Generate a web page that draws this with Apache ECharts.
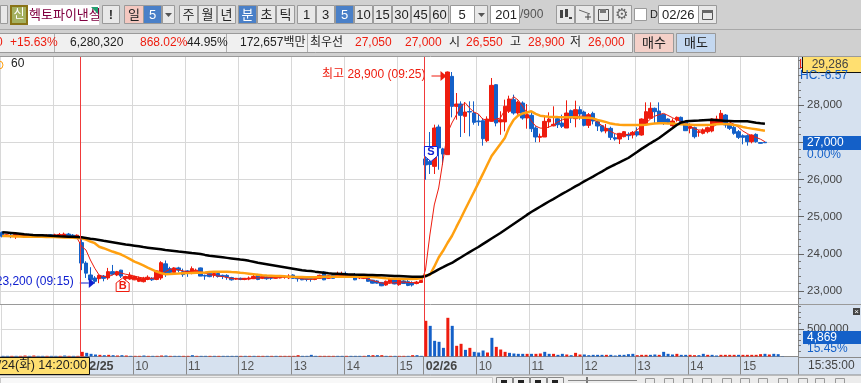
<!DOCTYPE html>
<html><head><meta charset="utf-8">
<style>html,body{margin:0;padding:0;background:#fff;overflow:hidden}#c{width:861px;height:383px}</style>
<script src="https://cdn.jsdelivr.net/npm/echarts@6/dist/echarts.min.js"></script>
</head><body><div id="c"></div>
<script>
// [open, close, low, high] per 5-minute bar
const candles = [
[24570,24470,24440,24600],[24480,24510,24450,24530],[24500,24480,24420,24540],[24480,24520,24400,24550],[24500,24510,24470,24530],[24480,24520,24430,24540],
[24520,24510,24480,24540],[24510,24450,24430,24530],[24460,24490,24440,24510],[24510,24470,24450,24530],[24470,24500,24450,24520],[24510,24460,24440,24530],
[24470,24510,24450,24540],[24500,24520,24460,24560],[24490,24530,24450,24570],[24530,24490,24460,24560],[24500,24460,24430,24530],[24460,24500,24440,24520],
[24300,23750,23560,24400],[23750,23480,23350,23800],[23430,23300,23230,23640],[23350,23260,23200,23400],[23330,23420,23210,23440],[23400,23340,23260,23430],
[23350,23520,23300,23620],[23520,23450,23420,23700],[23430,23520,23400,23540],[23560,23400,23350,23570],[23330,23390,23270,23410],[23320,23420,23300,23500],
[23300,23390,23290,23410],[23260,23350,23240,23390],[23250,23340,23230,23380],[23310,23370,23290,23420],[23340,23300,23270,23370],[23310,23540,23290,23560],
[23350,23760,23300,23800],[23730,23500,23380,23820],[23600,23500,23480,23650],[23500,23620,23490,23640],[23620,23560,23500,23650],[23520,23440,23380,23600],
[23540,23480,23380,23560],[23470,23600,23450,23660],[23520,23560,23500,23600],[23620,23400,23400,23630],[23420,23400,23300,23440],
[23475,23386,23370,23510],[23430,23470,23360,23520],[23470,23390,23360,23500],[23420,23390,23320,23440],[23420,23370,23300,23450],[23360,23300,23280,23380],
[23320,23340,23300,23350],[23340,23310,23290,23360],[23310,23340,23290,23350],[23320,23350,23290,23390],[23330,23390,23320,23430],[23440,23310,23290,23460],
[23340,23390,23320,23410],[23380,23330,23300,23400],[23380,23340,23300,23410],[23340,23380,23330,23390],[23350,23400,23340,23430],[23370,23390,23330,23420],
[23350,23400,23320,23450],[23430,23340,23330,23450],[23360,23330,23250,23390],[23340,23300,23290,23360],[23340,23310,23260,23370],[23340,23320,23250,23360],
[23310,23340,23290,23360],[23340,23420,23330,23440],[23510,23300,23290,23530],[23340,23410,23330,23430],[23430,23340,23330,23450],[23380,23470,23360,23520],
[23420,23450,23380,23520],[23470,23400,23380,23520],[23400,23430,23380,23450],[23440,23300,23290,23480],[23350,23400,23320,23430],[23340,23360,23320,23380],
[23360,23260,23250,23370],[23290,23210,23200,23300],[23270,23210,23200,23290],[23230,23140,23130,23240],[23160,23260,23140,23280],[23220,23330,23200,23350],
[23330,23190,23180,23350],[23170,23330,23140,23350],[23270,23200,23190,23310],[23250,23150,23130,23330],[23220,23160,23120,23260],[23200,23240,23180,23270],
[23230,23280,23220,23300],
[26550,26390,25990,26650],[26480,26400,26145,27274],[26350,27381,26145,27471],[27408,26844,26260,27471],[26820,26680,26390,26850],[26665,28886,26665,28900],
[28770,27963,27668,28886],[27963,28026,27605,28322],[28026,27722,27139,28098],[27695,27811,27247,28080],[27825,27810,27157,28098],[27784,27533,27470,28098],
[27570,27550,27440,27760],[27578,27094,26906,27650],[27040,27623,27000,27695],[27560,28528,27550,28725],[28546,27516,27426,28560],[27545,27605,27200,27830],
[27545,27964,27291,28143],[27829,28161,27784,28250],[28143,27784,27740,28277],[27784,28080,27740,28116],[28053,27650,27605,28098],[27650,27740,27363,28026],
[27722,27363,27274,27830],[27381,27139,27000,27430],[27130,27157,27000,27230],[27139,27560,27139,27722],[27545,27623,27381,27802],[27440,27480,27426,27964],
[27632,27470,27381,27695],[27515,27426,27381,27740],[27381,27784,27381,28125],[27847,27650,27515,27875],[27632,27874,27400,28116],[27874,27757,27605,27964],
[27811,27453,27426,27847],[27453,27740,27381,27784],[27775,27569,27480,27820],[27551,27435,27300,27623],[27444,27300,27264,27460],[27300,27372,27238,27488],
[27372,27130,27058,27417],[27121,27085,27040,27220],[27085,27238,26950,27250],[27148,27282,27130,27300],[27210,27175,27058,27265],[27193,27264,27100,27300],
[27282,27193,27148,27400],[27193,27623,27175,27640],[27480,27820,27462,28071],[27641,27910,27640,28071],[27910,27820,27500,27930],[27838,27506,27506,28071],
[27748,27533,27462,27760],[27623,27533,27500,27640],[27444,27569,27417,27640],[27596,27668,27550,27690],[27668,27480,27462,27690],[27551,27309,27309,27570],
[27372,27417,27238,27506],[27390,27148,27100,27417],[27264,27282,27148,27327],[27238,27327,27210,27372],[27282,27390,27238,27417],[27300,27623,27264,27640],
[27480,27623,27462,27712],[27506,27775,27480,27865],[27730,27462,27390,27757],[27462,27372,27327,27506],[27399,27238,27200,27460],[27282,27130,27085,27327],
[27175,27130,26942,27210],[27175,27014,26906,27210],[27014,27193,26969,27210],[27210,27014,26987,27238],[26990,26970,26960,27000],[27000,26985,26980,27000]
];
const maRed = [
24490,24490,24485,24485,24490,24490,24490,24480,24475,24475,24480,24485,24490,24495,24500,24470,24440,24420,
24200,24102,23833,23610,23425,23390,23384,23430,23500,23480,23450,23430,23400,23370,23350,23340,23340,23370,23440,23520,23580,23590,23570,23540,23520,23530,23530,23520,23480,23440,
23420,23400,23390,23360,23340,23325,23320,23320,23330,23345,23350,23360,23355,23360,23365,23370,23375,23380,23370,23350,23330,23320,23310,23320,23350,23360,23370,23380,23400,23420,23420,23410,23390,23380,23360,23320,23280,23250,23215,23200,23210,23220,23230,23240,23230,23225,23225,23230,
23560,24505,25312,25769,26520,27247,27516,27730,27954,28062,27920,27810,27758,27620,27597,27597,27620,27650,27865,28080,28222,28134,27973,27785,27570,27435,27380,27373,27408,27462,27543,27597,27650,27677,27685,27700,27700,27677,
27625,27540,27450,27373,27290,27230,27193,27190,27210,27240,27330,27420,27508,27620,27700,27740,27775,27720,27660,27600,27560,27516,27440,27360,27327,27327,27330,27400,27470,27540,27590,27540,27480,27400,27300,27230,27170,27130,27080,27014
];
const maOrange = [
24480,24475,24470,24465,24465,24460,24460,24460,24455,24455,24450,24450,24450,24445,24440,24435,24430,24425,
24416,24380,24330,24285,24190,24150,24105,24060,24021,23980,23920,23855,23788,23740,23690,23630,23575,23519,23480,23449,23455,23465,23470,23476,23480,23485,23490,23492,23500,23510,
23515,23515,23515,23519,23510,23505,23492,23480,23465,23450,23435,23420,23415,23411,23405,23400,23395,23385,23380,23376,23374,23372,23370,23372,23376,23380,23384,23384,23382,23381,23380,23380,23380,23380,23380,23380,23376,23370,23355,23341,23335,23330,23328,23325,23322,23322,23330,23341,
23420,23430,23653,23900,24080,24290,24478,24715,24950,25190,25425,25661,25900,26140,26385,26629,26790,26950,27113,27400,27600,27712,27770,27800,27830,27760,27712,27695,27685,27680,27675,27672,27670,27670,27668,27665,27660,27655,
27640,27600,27570,27540,27500,27480,27470,27465,27462,27462,27460,27460,27470,27490,27505,27508,27508,27505,27500,27490,27480,27475,27470,27465,27462,27462,27462,27470,27480,27489,27489,27480,27465,27440,27410,27385,27365,27345,27325,27309
];
const maBlack = [
24578,24570,24560,24550,24540,24525,24515,24505,24500,24495,24490,24485,24480,24470,24465,24460,24455,24450,
24443,24425,24405,24390,24371,24350,24330,24310,24290,24270,24250,24235,24218,24200,24180,24165,24150,24135,24120,24102,24090,24075,24060,24050,24035,24020,24010,23995,23970,23949,
23935,23920,23905,23890,23875,23860,23845,23833,23810,23785,23760,23740,23720,23700,23680,23660,23640,23620,23600,23580,23560,23545,23538,23520,23505,23490,23475,23465,23460,23455,23449,23445,23440,23438,23435,23432,23430,23425,23420,23415,23410,23405,23400,23395,23390,23384,23384,23384,
23395,23450,23515,23583,23640,23700,23753,23830,23900,23975,24045,24115,24183,24260,24335,24410,24485,24559,24640,24720,24800,24880,24960,25045,25124,25195,25265,25335,25405,25470,25540,25610,25675,25742,25810,25875,25945,26010,
26075,26145,26210,26280,26345,26400,26460,26515,26575,26655,26735,26820,26895,26970,27040,27113,27200,27290,27375,27462,27530,27560,27570,27575,27580,27590,27597,27600,27590,27580,27570,27570,27565,27565,27562,27562,27545,27525,27510,27497
];
const volumes = [
12000,12000,12000,12000,12000,18000,12000,18000,12000,12000,12000,12000,12000,12000,18000,12000,12000,12000,
84000,66000,48000,36000,30000,24000,30000,24000,18000,24000,18000,12000,12000,12000,18000,12000,12000,12000,18000,18000,12000,12000,12000,12000,12000,24000,12000,12000,12000,12000,
12000,12000,12000,12000,12000,12000,12000,12000,12000,12000,12000,12000,12000,12000,12000,12000,12000,12000,12000,24000,12000,12000,30000,12000,12000,12000,12000,12000,12000,12000,12000,12000,12000,12000,12000,24000,24000,24000,24000,12000,12000,12000,12000,12000,12000,24000,24000,12000,
644000,553000,283000,265000,156000,698000,553000,193000,229000,120000,156000,84000,72000,108000,72000,337000,174000,126000,84000,66000,54000,48000,48000,48000,48000,48000,54000,84000,48000,48000,30000,48000,36000,24000,66000,36000,36000,24000,
30000,30000,30000,30000,30000,18000,30000,30000,42000,48000,24000,30000,30000,30000,36000,30000,84000,48000,36000,48000,30000,30000,30000,24000,24000,48000,30000,30000,18000,30000,30000,30000,30000,30000,30000,30000,30000,30000,42000,48000,36000,48000,42000,4869
];
// volume bar colour per bar: R = red, B = blue
const volumeDirs = ["BBRBRRBRBBRBBRBRBR","RBBBRBRBRBRBRRBRBRRBRBBRRBRBBR","BRBBBBRBRBRRBRBRRRRRBBBBRRRRBB","RBBBRBRBRBRBRRBRBB",
 "RBBBBRBRRBRBBBRBRRRBBBBRBRRBBRBBRBRR","BBBBBRBBBBBBRRRBBRBBBRBBRRBBRBBRRRRBRRRRRBRBB"].join("");
const priceTicks = [23000,24000,25000,26000,27000,28000];
const priceMinorTicks = [22800,23200,23400,23600,23800,24200,24400,24600,24800,25200,25400,25600,25800,26200,26400,26600,26800,27200,27400,27600,27800,28200,28400,28600,28800,29000,29200];
const volumeTicks = [500000];
const volumeMinorTicks = [100000,200000,300000,400000,600000,700000,800000,900000];

// time labels for the bars: 02/24 14:00 .. 02/26 15:25, then empty room to the right
const categories = [];
const addSession = (d, startIdx, n) => { for (let i = 0; i < n; i++) {
  const m = startIdx + i * 5; categories.push(d + ' ' + String(Math.floor(m/60)).padStart(2,'0') + ':' + String(m%60).padStart(2,'0')); } };
addSession('02/24', 840, 18); addSession('02/25', 540, 78); addSession('02/26', 540, 85);

const RED = '#ee1c0e', BLUE = '#1460c8', GRID = '#d8d8d8', PANEL = '#d6e1ef', YEL = '#ffdf70';
const FONT = '"Liberation Sans","Noto Sans CJK KR",sans-serif';
const isHour = (i, v) => v.slice(-2) === '00' && v.slice(-5) !== '16:00' && v.slice(-5) !== '09:00';
const isAxisHour = (i, v) => v.slice(-2) === '00' && v.slice(-5) !== '16:00';
const fmtNum = v => Number(v).toLocaleString('en-US');
const hourLabel = v => v.slice(-5) === '09:00' ? '{b|' + v.slice(0,5) + '}' : v.slice(6,8).replace(/^0/, '');

const G = [];
const R = (x,y,w,h,fill,stroke,z) => G.push({type:'rect',shape:{x,y,width:w,height:h},style:{fill:fill||'none',stroke:stroke||null,lineWidth:1},z:z===undefined?50:z,silent:true});
const T = (t,x,y,fill,o) => G.push({type:'text',x,y,style:Object.assign({text:t,fill:fill||'#222',font:'12px '+FONT,textAlign:'left',textVerticalAlign:'middle'},o||{}),z:(o&&o.z)||52,silent:true});
const L = (x1,y1,x2,y2,c,z) => G.push({type:'line',shape:{x1,y1,x2,y2},style:{stroke:c,lineWidth:1},z:z||51,silent:true});
const P = (pts,fill,stroke) => G.push({type:'polygon',shape:{points:pts},style:{fill,stroke:stroke||null,lineWidth:1},z:53,silent:true});
const BTN = (t,x,w,on,fill) => { R(x+.5,5.5,w-1,18,fill||(on?'#4a80c8':'#e8e8e8'),'#9a9a9a'); T(t,x+w/2,15,on?'#fff':'#222',{textAlign:'center',font:'13px '+FONT}); };

// toolbars
R(0,0,861,56,'#d0d0d0',null,40);
R(0.5,5.5,7,18,'#e8e8e8','#9a9a9a');
R(10,5,18,20,'#8a7416',null); R(12,7,14,16,'#a4b060',null); T('신',19,15,'#fff',{textAlign:'center',font:'12px '+FONT});
R(28,5,71,20,'#fff',null); T('헥토파이낸셜',29,15,'#800040',{font:'13px '+FONT});
P([[91,7],[98,7],[98,14]],'#22a070');
R(99,4,3,22,'#d0d0d0',null,56);
R(102.5,5.5,17,18,'#e8e8e8','#9a9a9a',57); T('!',111,15,'#333',{textAlign:'center',font:'bold 13px '+FONT,z:58});
R(120,4,4,22,'#d0d0d0',null,56);
R(124.5,5.5,19,18,'#f4c8c0','#9a9a9a'); T('일',134,15,'#222',{textAlign:'center',font:'13px '+FONT});
BTN('5',143,19,true);
BTN('',162,13,false); P([[165,13],[172,13],[168.5,17]],'#555');
[['주',179],['월',198],['년',217]].forEach(a=>BTN(a[0],a[1],19,false));
BTN('분',238,19,true); BTN('초',257,19,false); BTN('틱',276,19,false);
[['1',297],['3',316],['5',335],['10',354],['15',373],['30',392],['45',411],['60',430]].forEach((a,i)=>BTN(a[0],a[1],19,i===2));
R(450.5,5.5,24,18,'#fff','#9a9a9a'); T('5',462,15,'#222',{textAlign:'center',font:'13px '+FONT});
BTN('',474,14,false); P([[478,13],[485,13],[481.5,17]],'#555');
R(490.5,5.5,29,18,'#fff','#9a9a9a'); T('201',517,15,'#222',{textAlign:'right',font:'13px '+FONT});
T('/900',520,15,'#555',{font:'12px '+FONT});
[556,575,594,613].forEach(x=>R(x+.5,5.5,18,18,'#e8e8e8','#9a9a9a'));
R(560,10,3,8,'#444'); R(565,9,3,8,'#444'); P([[569,17],[572,17],[572,19],[569,19]],'#444');
L(579,10,590,14,'#666'); L(585,17,591,17,'#444'); L(588,14,588,20,'#444');
R(598.5,9.5,10,11,'none','#555'); R(600,9,6,4,'#777');
T('⚙',622,15,'#666',{textAlign:'center',font:'15px "DejaVu Sans"'});
R(634.5,8.5,12,12,'#fff','#9a9a9a'); T('D',650,15,'#222',{font:'11px '+FONT});
R(658.5,5.5,40,18,'#fff','#9a9a9a'); T('02/26',662,15,'#222',{font:'13px '+FONT});
R(698.5,5.5,18,18,'#e8e8e8','#9a9a9a'); R(702.5,10.5,10,9,'none','#555'); R(702,10,11,3,'#666');
L(0,29.5,861,29.5,'#a8a8a8');
R(-1,33.5,633.5,19,'#f0f0f0','#9a9a9a');
[54.5,226.5,307.5].forEach(x=>L(x,34,x,52,'#b0b0b0'));
[['0',-4,RED],['+15.63%',10,RED],['6,280,320',70,'#222'],['868.02%',140,RED],['44.95%',187,'#222'],['172,657백만',240,'#222'],['최우선',310,'#222'],
 ['27,050',355,RED],['27,000',405,RED],['시',449,'#222'],['26,550',466,RED],['고',510,'#222'],['28,900',528,RED],['저',570,'#222'],['26,000',588,RED]]
 .forEach(a=>T(a[0],a[1],43,a[2]));
R(634.5,33.5,39,19,'#f4d0c8','#9a9a9a'); T('매수',654,43,'#222',{textAlign:'center',font:'13px '+FONT});
R(676.5,33.5,39,19,'#c4d8f0','#9a9a9a'); T('매도',696,43,'#222',{textAlign:'center',font:'13px '+FONT});
L(0,56.5,861,56.5,'#9a9a9a',60);

// panels
R(798,57,63,318,PANEL,null,-1);
R(0,357,798,18,PANEL,null,-1);
R(0,375,861,8,'#ececec',null,40);
R(0.5,377.5,492,8,'#f8f8f8','#c8c8c8',41);
[496,513,530,547].forEach(x=>R(x+.5,377.5,16,9,'#f0f0f0','#888'));
[501,518,535,552].forEach(x=>R(x,380,6,3,'#222'));
L(568,380.5,637,380.5,'#888'); R(586,377,2,6,'#777');
[645,664,683,702,722,740,758,778,798,815,835].forEach(x=>R(x+.5,378.5,9,6,'none','#999'));
L(0,304.5,861,304.5,'#9a9a9a',30);
L(798,357.5,861,357.5,'#8a8a8a',30);
L(0,375,861,375,'#8a8a8a',45);

// right side boxes
T('L',799,65,RED,{z:50});
T('HC:-6.57',800,76,BLUE);
R(802.5,56.5,60,16,YEL,'#111');
T('29,286',830,64.5,'#444',{textAlign:'center'});
R(803,136,58,14,BLUE,null);
T('27,000',807,143,'#fff');
T('0.00%',807,155,BLUE);
R(853,308,7,7,'#444',null); T('×',856.5,311.5,'#fff',{textAlign:'center',font:'8px '+FONT});
R(803,331,58,13,BLUE,null);
T('4,869',807,338,'#fff');
T('15.45%',807,349,BLUE);
T('15:35:00',808,366,'#444');
R(-2.5,357.5,92,17,YEL,'#111',55);
T('02/24(화) 14:20:00',87,366,'#222',{textAlign:'right',z:56,font:'12.5px '+FONT});
G.push({type:'circle',shape:{cx:-1,cy:65,r:4},style:{fill:'none',stroke:'#ffa010',lineWidth:1},z:52,silent:true});
T('60',11,64,'#222');

const chart = echarts.init(document.getElementById('c'), null, {renderer:'canvas'});
const xBase = {type:'category', data:categories, boundaryGap:true};
const option = {
  animation:false, backgroundColor:'#fff',
  textStyle:{fontFamily:FONT},
  grid:[{left:0,top:57,width:798,height:247,containLabel:false},{left:0,top:305,width:798,height:51.5,containLabel:false}],
  xAxis:[
    Object.assign({},xBase,{gridIndex:0,axisLine:{show:false},axisTick:{show:false},axisLabel:{show:false},splitLine:{show:true,interval:isHour,lineStyle:{color:GRID}}}),
    Object.assign({},xBase,{gridIndex:1,axisLine:{show:true,lineStyle:{color:'#8a8a8a'}},
      axisTick:{show:true,interval:isAxisHour,length:18,lineStyle:{color:'#8a8a8a'}},
      axisLabel:{show:true,interval:isAxisHour,align:'left',margin:4,hideOverlap:false,color:'#555',fontSize:12,fontFamily:FONT,formatter:hourLabel,
        rich:{b:{fontWeight:'bold',fontSize:12.5,color:'#444',fontFamily:FONT}}},
      splitLine:{show:true,interval:isHour,lineStyle:{color:GRID}}})
  ],
  yAxis:[
    {type:'value',gridIndex:0,position:'right',min:22650,max:29290,scale:true,
      axisLine:{show:true,lineStyle:{color:'#8a8a8a'}},
      axisTick:{show:true,length:6,customValues:priceTicks,lineStyle:{color:'#666'}},
      axisLabel:{show:true,customValues:priceTicks,margin:9,color:'#444',fontSize:11.5,fontFamily:FONT,formatter:fmtNum},
      splitLine:{show:true,lineStyle:{color:GRID}}},
    {type:'value',gridIndex:0,position:'right',min:22650,max:29290,scale:true,
      axisLine:{show:false},axisLabel:{show:false},splitLine:{show:false},
      axisTick:{show:true,length:3,customValues:priceMinorTicks,lineStyle:{color:'#777'}}},
    {type:'value',gridIndex:1,position:'right',min:0,max:929000,
      axisLine:{show:true,lineStyle:{color:'#8a8a8a'}},
      axisTick:{show:true,length:6,customValues:volumeTicks,lineStyle:{color:'#666'}},
      axisLabel:{show:true,customValues:volumeTicks,margin:9,color:'#444',fontSize:11.5,fontFamily:FONT,formatter:fmtNum},
      splitLine:{show:true,lineStyle:{color:GRID}}},
    {type:'value',gridIndex:1,position:'right',min:0,max:929000,
      axisLine:{show:false},axisLabel:{show:false},splitLine:{show:false},
      axisTick:{show:true,length:3,customValues:volumeMinorTicks,lineStyle:{color:'#777'}}}
  ],
  series:[
    {type:'candlestick',name:'price',xAxisIndex:0,yAxisIndex:0,data:candles,barWidth:4,z:3,
      itemStyle:{color:RED,color0:BLUE,borderColor:RED,borderColor0:BLUE,borderWidth:1}},
    {type:'line',name:'5',xAxisIndex:0,yAxisIndex:0,data:maRed,showSymbol:false,z:4,lineStyle:{color:RED,width:1}},
    {type:'line',name:'20',xAxisIndex:0,yAxisIndex:0,data:maOrange,showSymbol:false,z:5,lineStyle:{color:'#ffa010',width:2.5}},
    {type:'line',name:'60',xAxisIndex:0,yAxisIndex:0,data:maBlack,showSymbol:false,z:6,lineStyle:{color:'#000',width:2.5}},
    {type:'bar',name:'volume',xAxisIndex:1,yAxisIndex:2,barWidth:3,z:3,
      data:volumes.map((v,i)=>({value:v,itemStyle:{color:volumeDirs[i]==='R'?RED:BLUE}}))}
  ],
  graphic:{elements:G}
};
chart.setOption(option);

// annotations anchored to the data through the chart's own scales
const px = (i,v) => chart.convertToPixel({xAxisIndex:0,yAxisIndex:0},[i,v]);
const A = [];
const add = e => { e.silent = true; e.z = e.z || 20; A.push(e); };
const hi = px(101,28900), lo = px(21,23200), sp = px(96,26650), bp = px(28,23270);
// session-open lines are drawn as thin filled rects one pixel wide, snapped to the band's left edge
[18,96].forEach(i => { const x = Math.ceil(px(i,24000)[0] - 2.2);
  add({type:'rect',z:30,shape:{x:x,y:57,width:1,height:299},style:{fill:'#f03a3a'}}); });
add({type:'text',x:hi[0]-22,y:75,style:{text:'최고 28,900 (09:25)',fill:RED,font:'12px '+FONT,textAlign:'right',textVerticalAlign:'middle'}});
add({type:'line',shape:{x1:hi[0]-16,y1:76,x2:hi[0]-6,y2:76},style:{stroke:RED,lineWidth:1}});
add({type:'polygon',shape:{points:[[hi[0]-7,71],[hi[0]-1,76],[hi[0]-7,81]]},style:{fill:RED}});
add({type:'text',x:lo[0]-21,y:282,style:{text:'23,200 (09:15)',fill:'#1020d0',font:'12px '+FONT,textAlign:'right',textVerticalAlign:'middle'}});
add({type:'line',shape:{x1:lo[0]-15,y1:283,x2:lo[0]-6,y2:283},style:{stroke:'#1020d0',lineWidth:1}});
add({type:'polygon',shape:{points:[[lo[0]-6,278],[lo[0],283],[lo[0]-6,288]]},style:{fill:'#1020d0'}});
const sx = sp[0]+5.5, bx = bp[0]-3;
add({type:'polygon',z:31,shape:{points:[[sx-6.5,146.5],[sx+6.5,146.5],[sx+6.5,156],[sx,161.5],[sx-6.5,156]]},style:{fill:'#fff',stroke:'#1020e0',lineWidth:1}});
add({type:'text',z:32,x:sx,y:152,style:{text:'S',fill:'#1020d0',font:'bold 11px '+FONT,textAlign:'center',textVerticalAlign:'middle'}});
add({type:'polygon',shape:{points:[[bx,278],[bx+6.5,283],[bx+6.5,291.5],[bx-6.5,291.5],[bx-6.5,283]]},style:{fill:'#fff',stroke:RED,lineWidth:1}});
add({type:'text',x:bx,y:286,style:{text:'B',fill:RED,font:'bold 11px '+FONT,textAlign:'center',textVerticalAlign:'middle'}});
chart.setOption({graphic:{elements:G.concat(A)}});
</script></body></html>
